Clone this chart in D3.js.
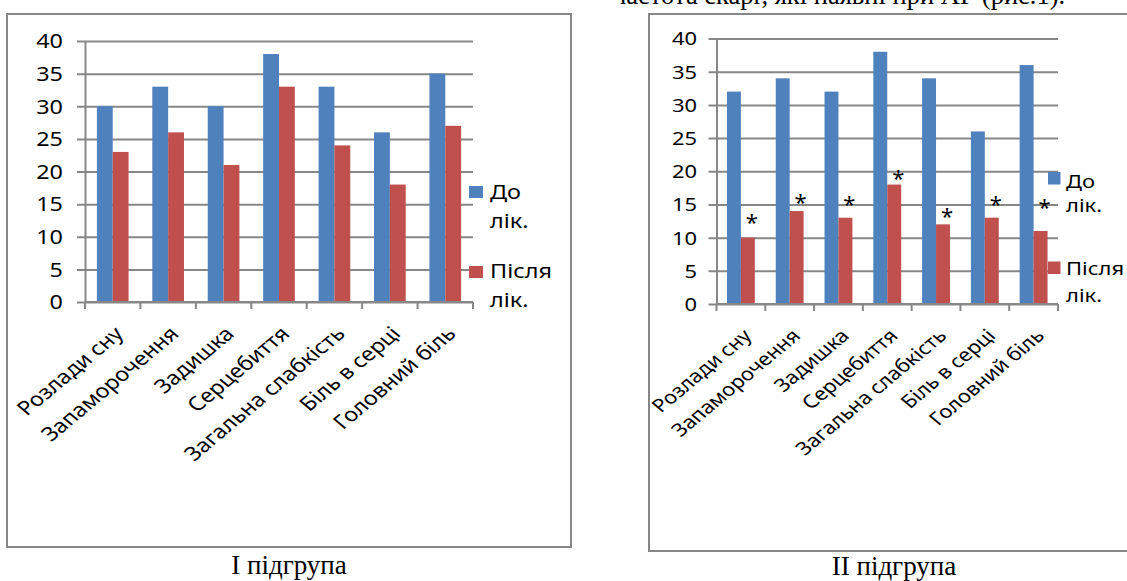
<!DOCTYPE html>
<html>
<head>
<meta charset="utf-8">
<script src="https://cdn.jsdelivr.net/npm/d3@7"></script>
<style>
  html, body { margin: 0; padding: 0; background: #fff; }
  svg { display: block; }
</style>
</head>
<body>
<svg id="fig" width="1127" height="581"></svg>
<script>
// Complaint categories (x axis)
const categories = [
  "Розлади сну", "Запаморочення", "Задишка", "Серцебиття",
  "Загальна слабкість", "Біль в серці", "Головний біль"
];
// Legend entries, each split over two lines
const seriesNames = [["До", "лік."], ["Після", "лік."]];

// Subgroup I
const group1Before = [30, 33, 30, 38, 33, 26, 35];
const group1After  = [23, 26, 21, 33, 24, 18, 27];

// Subgroup II
const group2Before = [32, 34, 32, 38, 34, 26, 36];
const group2After  = [10, 14, 13, 18, 12, 13, 11];
// Height (in value units) of the significance asterisks above the "after" bars
const group2StarLevels = [13.1, 16.0, 15.7, 19.7, 14.0, 15.7, 15.3];

const yTickValues = [0, 5, 10, 15, 20, 25, 30, 35, 40];
const captions = ["І підгрупа", "ІІ підгрупа"];
const headerText = "частота скарг, які наявні при АГ (рис.1).";

// ---- styling ----
const colors = ["#4F81BD", "#C0504D"];
const lineGray = "#878787";
const sansFont = "'Noto Sans', 'Open Sans', sans-serif";
const serifFont = "'Liberation Serif', 'Times New Roman', serif";
const stretch = 1.2;   // chart text is set slightly wide

const svg = d3.select("#fig");

// Running text line above the right panel (only its lower part is in view)
svg.append("text")
  .attr("x", 613).attr("y", 4)
  .attr("font-family", serifFont)
  .attr("font-size", 26.5)
  .attr("fill", "#000")
  .text(headerText);

const panels = [
  {
    before: group1Before, after: group1After, stars: null, caption: captions[0],
    frame: { x: 7, y: 14, w: 564, h: 533 },
    x0: 85, x1: 473, y0: 41, y1: 302,
    labelRight: 63, fontSize: 19.5,
    legend: { sqX: 469, sqW: 14, sqH: 12, sqY: [186, 266], textX: 490,
              baselines: [[199, 228], [278, 307]] },
    captionX: 289, captionY: 574
  },
  {
    before: group2Before, after: group2After, stars: group2StarLevels, caption: captions[1],
    frame: { x: 649, y: 14, w: 560, h: 537 },
    x0: 716.5, x1: 1058, y0: 38.5, y1: 304,
    labelRight: 697, fontSize: 18.3,
    legend: { sqX: 1048, sqW: 12.5, sqH: 12.5, sqY: [172, 261.5], textX: 1066,
              baselines: [[188, 212], [275, 302]] },
    captionX: 894, captionY: 575
  }
];

function drawPanel(p) {
  const g = svg.append("g");

  // chart frame
  g.append("rect")
    .attr("x", p.frame.x).attr("y", p.frame.y)
    .attr("width", p.frame.w).attr("height", p.frame.h)
    .attr("fill", "#fff")
    .attr("stroke", lineGray).attr("stroke-width", 2);

  const x = d3.scaleBand().domain(categories).range([p.x0, p.x1]).padding(0);
  const y = d3.scaleLinear().domain([0, 40]).range([p.y1, p.y0]);
  const plotW = p.x1 - p.x0;
  const barW = x.bandwidth() / 3.5;   // two bars + 150% gap

  // value axis with horizontal gridlines
  const yAxis = d3.axisLeft(y)
    .tickValues(yTickValues)
    .tickSizeInner(-plotW)
    .tickSizeOuter(0)
    .tickPadding(p.x0 - p.labelRight);
  const ya = g.append("g")
    .attr("transform", `translate(${p.x0},0)`)
    .call(yAxis);
  ya.select(".domain").attr("stroke", lineGray).attr("stroke-width", 2);
  ya.selectAll(".tick line")
    .attr("x1", -8)
    .attr("stroke", lineGray).attr("stroke-width", 2);
  ya.selectAll(".tick text")
    .attr("x", null).attr("dy", "0.35em")
    .attr("transform", `translate(${-(p.x0 - p.labelRight)},0) scale(${stretch},1)`)
    .attr("font-family", sansFont)
    .attr("font-size", p.fontSize)
    .attr("fill", "#000");

  // bars
  const series = [p.before, p.after];
  series.forEach((vals, si) => {
    g.append("g").selectAll("rect")
      .data(categories.map((c, i) => ({ c, v: vals[i] })))
      .join("rect")
      .attr("x", d => x(d.c) + x.bandwidth() / 2 - barW + si * barW)
      .attr("y", d => y(d.v))
      .attr("width", barW)
      .attr("height", d => y(0) - y(d.v))
      .attr("fill", colors[si]);
  });

  // category axis: baseline and tick marks between categories
  g.append("line")
    .attr("x1", p.x0).attr("x2", p.x1)
    .attr("y1", y(0)).attr("y2", y(0))
    .attr("stroke", lineGray).attr("stroke-width", 2);
  const edges = categories.map(c => x(c)).concat([p.x1]);
  g.append("g").selectAll("line")
    .data(edges)
    .join("line")
    .attr("x1", d => d).attr("x2", d => d)
    .attr("y1", y(0)).attr("y2", y(0) + 7)
    .attr("stroke", lineGray).attr("stroke-width", 2);

  // rotated category labels
  g.append("g").selectAll("text")
    .data(categories)
    .join("text")
    .attr("text-anchor", "end")
    .attr("transform", d =>
      `translate(${x(d) + x.bandwidth() / 2 + 12},${y(0) + 33}) scale(${stretch},1) rotate(-45)`)
    .attr("font-family", sansFont)
    .attr("font-size", p.fontSize)
    .attr("fill", "#000")
    .text(d => d);

  // asterisks marking significant change
  if (p.stars) {
    g.append("g").selectAll("text")
      .data(categories.map((c, i) => ({ c, s: p.stars[i] })))
      .join("text")
      .attr("text-anchor", "middle")
      .attr("x", d => x(d.c) + x.bandwidth() / 2 + barW / 2 + 4)
      .attr("y", d => y(d.s))
      .attr("dy", "0.57em")
      .attr("font-family", sansFont)
      .attr("font-size", 22)
      .attr("fill", "#000")
      .text("*");
  }

  // legend
  const lg = g.append("g");
  seriesNames.forEach((lines, si) => {
    lg.append("rect")
      .attr("x", p.legend.sqX).attr("y", p.legend.sqY[si])
      .attr("width", p.legend.sqW).attr("height", p.legend.sqH)
      .attr("fill", colors[si]);
    lines.forEach((t, li) => {
      lg.append("text")
        .attr("transform", `translate(${p.legend.textX},${p.legend.baselines[si][li]}) scale(${stretch},1)`)
        .attr("font-family", sansFont)
        .attr("font-size", p.fontSize)
        .attr("fill", "#000")
        .text(t);
    });
  });

  // caption under the chart
  svg.append("text")
    .attr("x", p.captionX).attr("y", p.captionY)
    .attr("text-anchor", "middle")
    .attr("font-family", serifFont)
    .attr("font-size", 27)
    .attr("fill", "#000")
    .text(p.caption);
}

panels.forEach(drawPanel);
</script>
</body>
</html>
